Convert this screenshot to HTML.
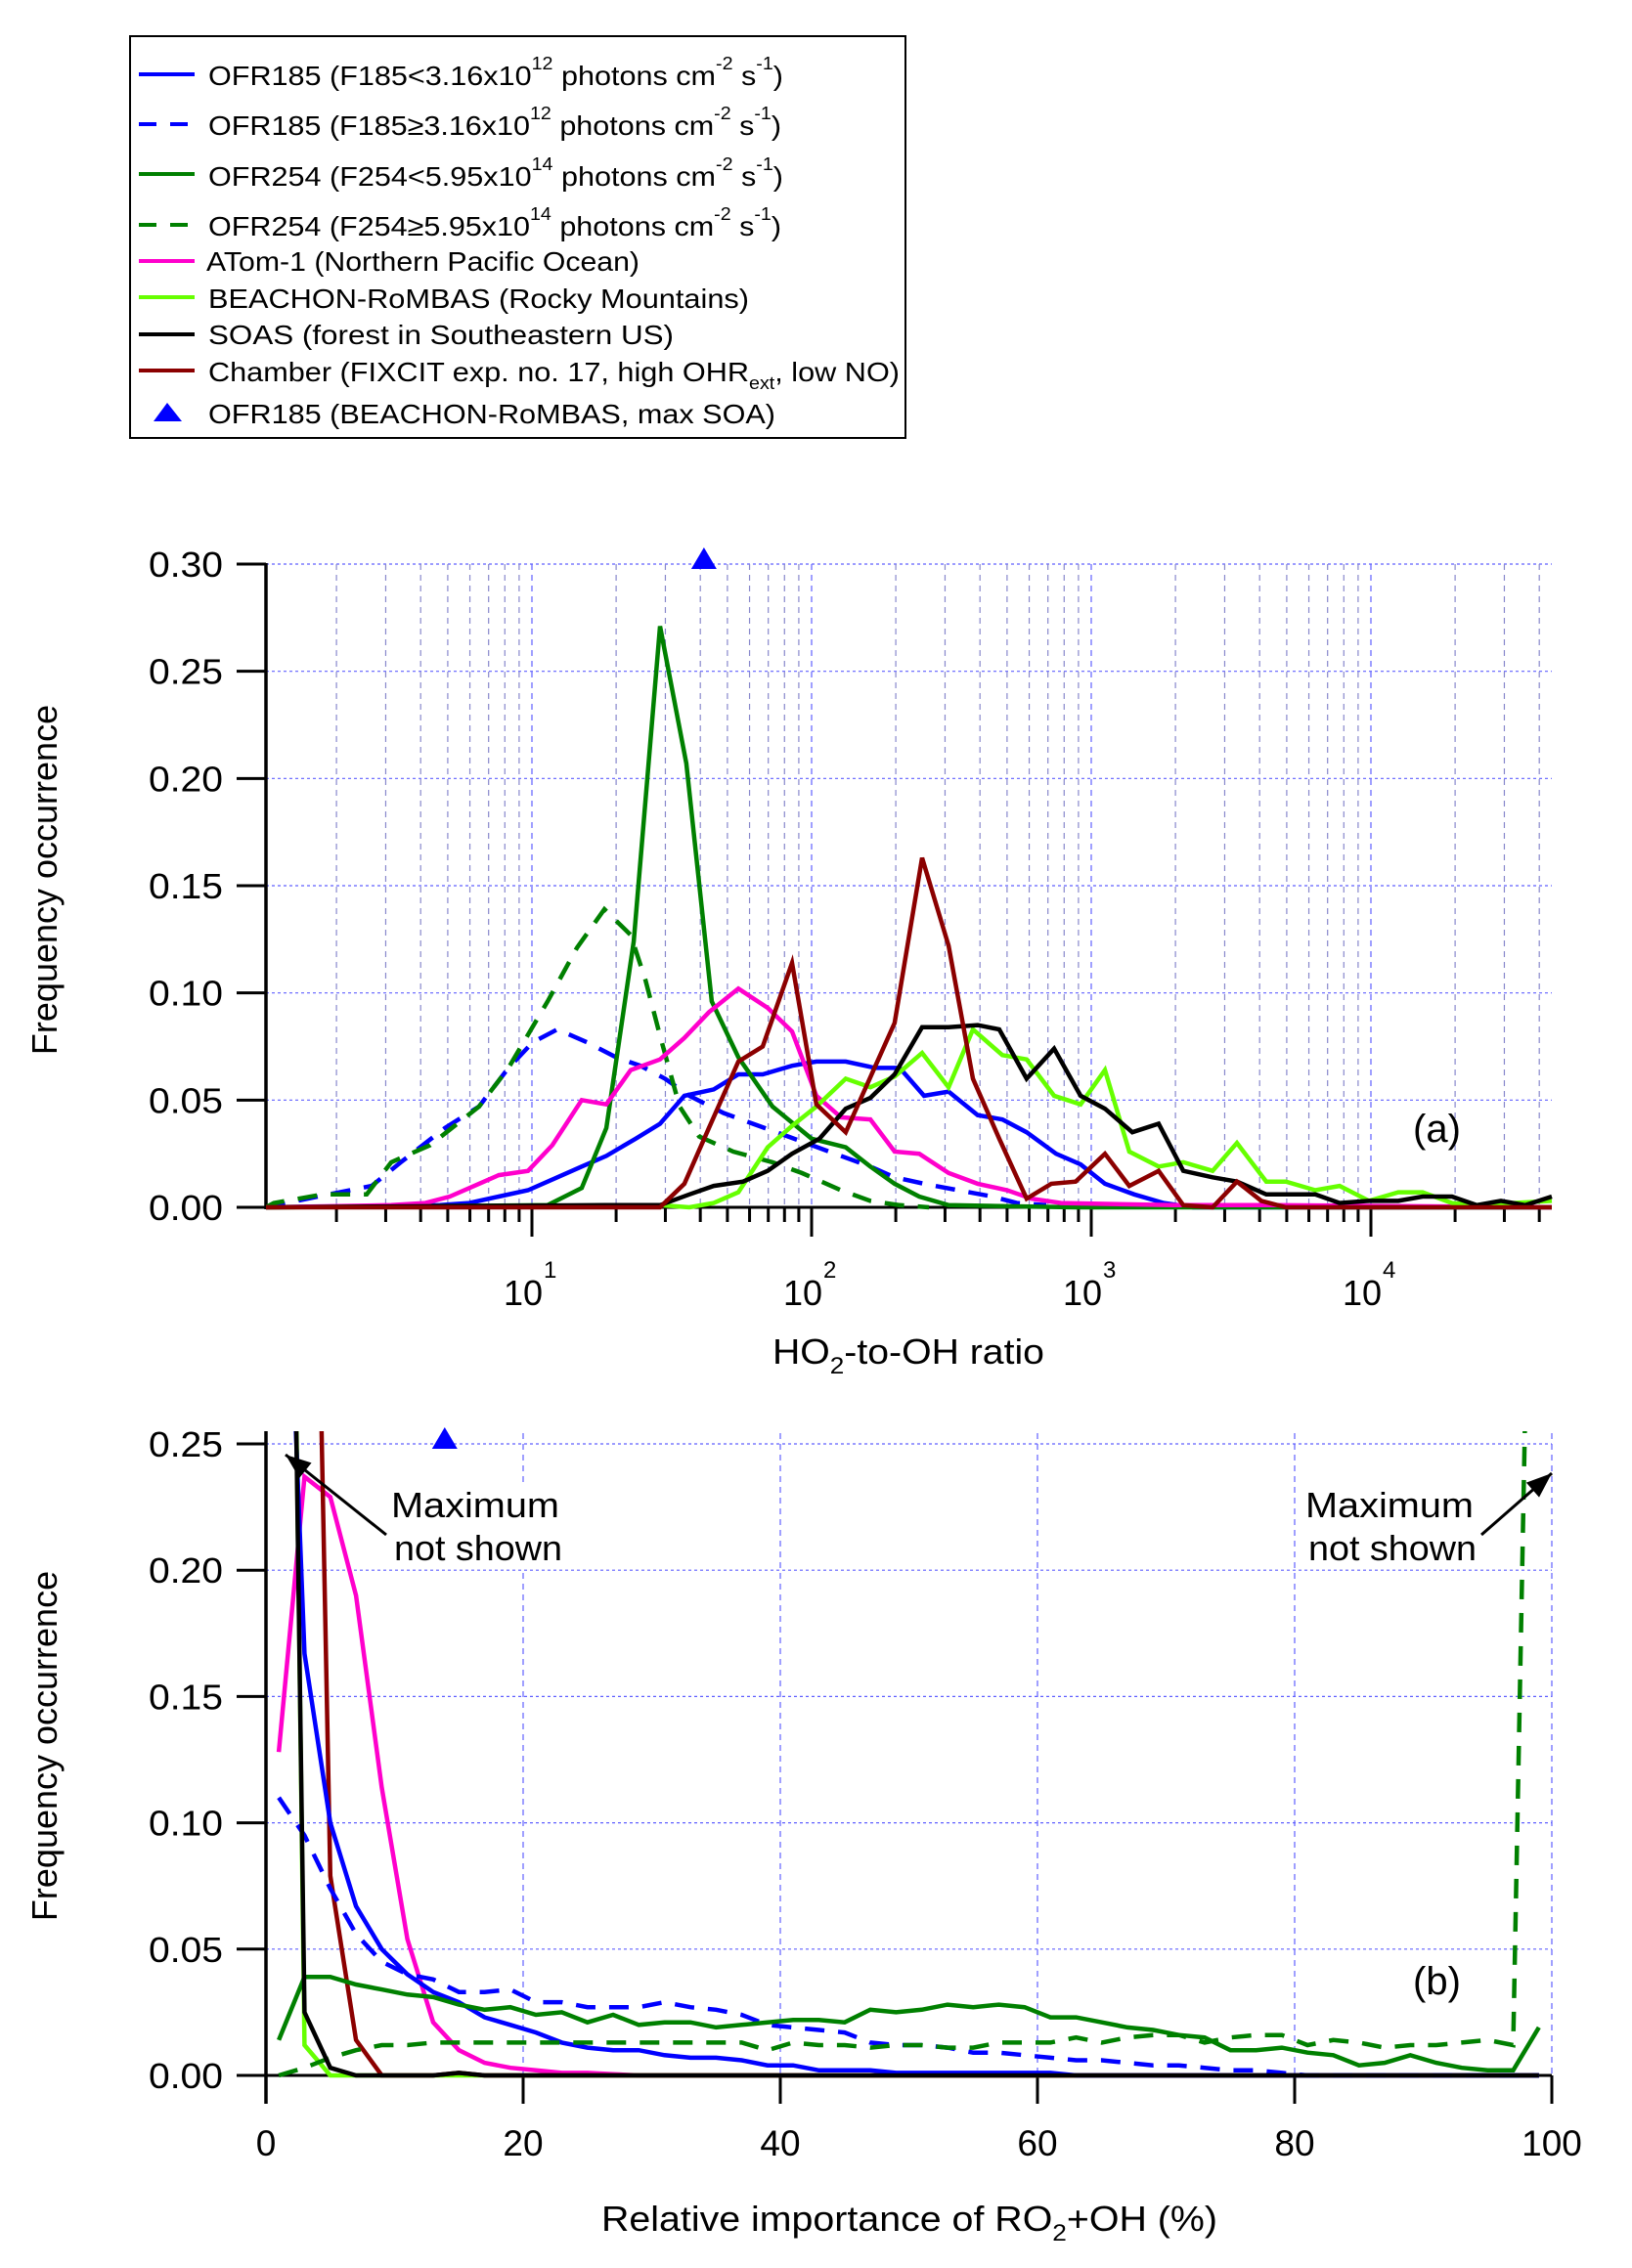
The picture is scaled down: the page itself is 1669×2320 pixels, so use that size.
<!DOCTYPE html>
<html><head><meta charset="utf-8"><style>
body{margin:0;background:#fff;}
svg{display:block;font-family:"Liberation Sans",Arial,sans-serif;}
</style></head><body>
<svg id="fig" width="1669" height="2320" viewBox="0 0 1669 2320" xmlns="http://www.w3.org/2000/svg">
<defs>
<clipPath id="clipA"><rect x="272" y="560" width="1320" height="680"/></clipPath>
<clipPath id="clipB"><rect x="272" y="1464" width="1320" height="662"/></clipPath>
</defs>
<g id="legend">
<rect x="133" y="37" width="793" height="411" fill="#fff" stroke="#000" stroke-width="2"/>
<g font-size="28" fill="#000">
<g><line x1="142" y1="76" x2="199" y2="76" stroke="#0000ff" stroke-width="4"/>
<text x="213" y="87" textLength="588" lengthAdjust="spacingAndGlyphs">OFR185 (F185&lt;3.16x10<tspan font-size="18" dy="-16">12</tspan><tspan dy="16"> photons cm</tspan><tspan font-size="18" dy="-16">-2</tspan><tspan dy="16"> s</tspan><tspan font-size="18" dy="-16">-1</tspan><tspan dy="16">)</tspan></text></g>
<g><line x1="142" y1="127" x2="199" y2="127" stroke="#0000ff" stroke-width="4" stroke-dasharray="18,14"/>
<text x="213" y="138" textLength="586" lengthAdjust="spacingAndGlyphs">OFR185 (F185≥3.16x10<tspan font-size="18" dy="-16">12</tspan><tspan dy="16"> photons cm</tspan><tspan font-size="18" dy="-16">-2</tspan><tspan dy="16"> s</tspan><tspan font-size="18" dy="-16">-1</tspan><tspan dy="16">)</tspan></text></g>
<g><line x1="142" y1="178" x2="199" y2="178" stroke="#008000" stroke-width="4"/>
<text x="213" y="190" textLength="588" lengthAdjust="spacingAndGlyphs">OFR254 (F254&lt;5.95x10<tspan font-size="18" dy="-16">14</tspan><tspan dy="16"> photons cm</tspan><tspan font-size="18" dy="-16">-2</tspan><tspan dy="16"> s</tspan><tspan font-size="18" dy="-16">-1</tspan><tspan dy="16">)</tspan></text></g>
<g><line x1="142" y1="230" x2="199" y2="230" stroke="#008000" stroke-width="4" stroke-dasharray="18,14"/>
<text x="213" y="241" textLength="586" lengthAdjust="spacingAndGlyphs">OFR254 (F254≥5.95x10<tspan font-size="18" dy="-16">14</tspan><tspan dy="16"> photons cm</tspan><tspan font-size="18" dy="-16">-2</tspan><tspan dy="16"> s</tspan><tspan font-size="18" dy="-16">-1</tspan><tspan dy="16">)</tspan></text></g>
<g><line x1="142" y1="267" x2="199" y2="267" stroke="#ff00cc" stroke-width="4"/>
<text x="211" y="277" textLength="443" lengthAdjust="spacingAndGlyphs">ATom-1 (Northern Pacific Ocean)</text></g>
<g><line x1="142" y1="304" x2="199" y2="304" stroke="#66ff00" stroke-width="4"/>
<text x="213" y="315" textLength="553" lengthAdjust="spacingAndGlyphs">BEACHON-RoMBAS (Rocky Mountains)</text></g>
<g><line x1="142" y1="342" x2="199" y2="342" stroke="#000" stroke-width="4"/>
<text x="213" y="352" textLength="476" lengthAdjust="spacingAndGlyphs">SOAS  (forest in Southeastern US)</text></g>
<g><line x1="142" y1="379" x2="199" y2="379" stroke="#8b0000" stroke-width="4"/>
<text x="213" y="390" textLength="707" lengthAdjust="spacingAndGlyphs">Chamber (FIXCIT exp. no. 17, high OHR<tspan font-size="18" dy="8">ext</tspan><tspan dy="-8">, low NO)</tspan></text></g>
<g><polygon points="171,412 186,431 157,431" fill="#0000ff"/>
<text x="213" y="433" textLength="580" lengthAdjust="spacingAndGlyphs">OFR185 (BEACHON-RoMBAS, max SOA)</text></g>
</g>
</g>
<g id="panelA"></g>
<g id="panelB"></g>
</svg>
<script>
// ---------- Panel (a) data: x = log10(HO2/OH), y = frequency ----------
const a_blueSolid_x=[0.049,0.671,0.776,0.881,0.986,1.091,1.178,1.266,1.371,1.458,1.545,1.650,1.738,1.825,1.930,2.017,2.122,2.227,2.315,2.402,2.490,2.594,2.682,2.769,2.874,2.962,3.049,3.154,3.259,3.364,4.647];
const a_blueSolid_y=[0,0.001,0.002,0.005,0.008,0.014,0.019,0.024,0.032,0.039,0.052,0.055,0.062,0.062,0.066,0.068,0.068,0.065,0.065,0.052,0.054,0.043,0.041,0.035,0.025,0.020,0.011,0.006,0.002,0,0];
const a_blueDash_x=[0.049,0.234,0.427,0.531,0.689,0.811,0.916,1.003,1.091,1.196,1.301,1.388,1.476,1.563,1.685,1.790,1.895,2.0,2.105,2.210,2.297,2.402,2.524,2.647,2.734,2.839];
const a_blueDash_y=[0,0.005,0.010,0.021,0.037,0.047,0.065,0.077,0.083,0.077,0.070,0.066,0.060,0.052,0.044,0.039,0.034,0.029,0.024,0.019,0.014,0.011,0.008,0.005,0.002,0.001];
const a_greenSolid_x=[0.049,1.056,1.178,1.266,1.364,1.458,1.552,1.643,1.738,1.860,2.0,2.122,2.210,2.297,2.385,2.490,2.944,4.647];
const a_greenSolid_y=[0,0.001,0.009,0.037,0.124,0.271,0.207,0.096,0.070,0.047,0.032,0.028,0.019,0.011,0.005,0.001,0,0];
const a_greenDash_x=[0.049,0.077,0.252,0.409,0.497,0.636,0.811,0.916,1.056,1.161,1.259,1.353,1.406,1.458,1.528,1.598,1.720,1.860,1.965,2.105,2.210,2.315,2.420];
const a_greenDash_y=[0,0.002,0.006,0.006,0.021,0.029,0.047,0.065,0.096,0.121,0.139,0.127,0.106,0.080,0.047,0.033,0.026,0.021,0.016,0.008,0.003,0.001,0];
const a_pink_x=[0.049,0.497,0.619,0.706,0.811,0.881,0.986,1.073,1.178,1.266,1.353,1.458,1.545,1.633,1.738,1.843,1.930,2.017,2.105,2.210,2.297,2.385,2.490,2.594,2.699,2.787,2.892,3.294,3.643,4.647];
const a_pink_y=[0,0.001,0.002,0.005,0.011,0.015,0.017,0.029,0.050,0.048,0.064,0.069,0.079,0.091,0.102,0.093,0.082,0.052,0.042,0.041,0.026,0.025,0.016,0.011,0.008,0.004,0.002,0.001,0.001,0];
const a_lime_x=[0.049,1.458,1.563,1.650,1.738,1.843,1.930,2.017,2.122,2.210,2.297,2.395,2.490,2.577,2.682,2.769,2.867,2.962,3.049,3.136,3.241,3.329,3.434,3.521,3.626,3.696,3.801,3.888,3.993,4.098,4.185,4.290,4.378,4.647];
const a_lime_y=[0,0.001,0,0.002,0.007,0.028,0.038,0.047,0.060,0.056,0.061,0.072,0.056,0.083,0.071,0.069,0.052,0.048,0.064,0.026,0.019,0.021,0.017,0.030,0.012,0.012,0.008,0.010,0.003,0.007,0.007,0.002,0.001,0.003];
const a_black_x=[0.049,1.266,1.458,1.563,1.650,1.755,1.843,1.930,2.028,2.122,2.210,2.297,2.395,2.490,2.594,2.671,2.769,2.867,2.962,3.049,3.147,3.241,3.329,3.434,3.521,3.626,3.696,3.801,3.888,3.993,4.098,4.185,4.290,4.378,4.465,4.552,4.647];
const a_black_y=[0,0.001,0.001,0.006,0.010,0.012,0.017,0.025,0.032,0.046,0.051,0.062,0.084,0.084,0.085,0.083,0.060,0.074,0.052,0.046,0.035,0.039,0.017,0.014,0.012,0.006,0.006,0.006,0.002,0.003,0.003,0.005,0.005,0.001,0.003,0.001,0.005];
const a_darkred_x=[0.049,1.458,1.545,1.633,1.738,1.825,1.930,2.017,2.122,2.297,2.395,2.490,2.577,2.671,2.769,2.857,2.944,3.049,3.136,3.241,3.329,3.434,3.521,3.608,3.696,4.647];
const a_darkred_y=[0,0,0.011,0.037,0.068,0.075,0.114,0.048,0.035,0.086,0.163,0.122,0.060,0.032,0.004,0.011,0.012,0.025,0.010,0.017,0.001,0,0.012,0.003,0,0];
const a_yTicks=[0,0.05,0.10,0.15,0.20,0.25,0.30];
const a_yTickLabels=["0.00","0.05","0.10","0.15","0.20","0.25","0.30"];
const a_decades=[1,2,3,4];
const a_marker=[1.615,0.30];

// ---------- Panel (b) data: x = relative importance (%), y = frequency ----------
const b_x=[1,3,5,7,9,11,13,15,17,19,21,23,25,27,29,31,33,35,37,39,41,43,45,47,49,51,53,55,57,59,61,63,65,67,69,71,73,75,77,79,81,83,85,87,89,91,93,95,97,99];
const b_blueSolid=[0.43,0.167,0.100,0.067,0.050,0.040,0.033,0.029,0.023,0.020,0.017,0.013,0.011,0.010,0.010,0.008,0.007,0.007,0.006,0.004,0.004,0.002,0.002,0.002,0.001,0.001,0.001,0.001,0.001,0.001,0.001,0,0,0,0,0,0,0,0,0,0,0,0,0,0,0,0,0,0,0];
const b_blueDash=[0.110,0.095,0.074,0.056,0.045,0.040,0.038,0.033,0.033,0.034,0.029,0.029,0.027,0.027,0.027,0.029,0.027,0.026,0.024,0.020,0.019,0.018,0.017,0.013,0.012,0.012,0.011,0.009,0.009,0.008,0.007,0.006,0.006,0.005,0.004,0.004,0.003,0.002,0.002,0.001,0,0,0,0,0,0,0,0,0,0];
const b_greenSolid=[0.014,0.039,0.039,0.036,0.034,0.032,0.031,0.028,0.026,0.027,0.024,0.025,0.021,0.024,0.020,0.021,0.021,0.019,0.020,0.021,0.022,0.022,0.021,0.026,0.025,0.026,0.028,0.027,0.028,0.027,0.023,0.023,0.021,0.019,0.018,0.016,0.015,0.010,0.010,0.011,0.009,0.008,0.004,0.005,0.008,0.005,0.003,0.002,0.002,0.019];
const b_greenDash=[0,0.003,0.007,0.010,0.012,0.012,0.013,0.013,0.013,0.013,0.013,0.013,0.013,0.013,0.013,0.013,0.013,0.013,0.013,0.010,0.013,0.012,0.012,0.011,0.012,0.012,0.011,0.011,0.013,0.013,0.013,0.015,0.013,0.015,0.016,0.016,0.013,0.015,0.016,0.016,0.012,0.014,0.013,0.011,0.012,0.012,0.013,0.014,0.012,0.55];
const b_pink=[0.128,0.237,0.229,0.190,0.114,0.054,0.021,0.010,0.005,0.003,0.002,0.001,0.001,0.0005,0,0,0,0,0,0,0,0,0,0,0,0,0,0,0,0,0,0,0,0,0,0,0,0,0,0,0,0,0,0,0,0,0,0,0,0];
const b_darkred=[0.7,0.6,0.079,0.014,0,0,0,0.001,0,0,0,0,0,0,0,0,0,0,0,0,0,0,0,0,0,0,0,0,0,0,0,0,0,0,0,0,0,0,0,0,0,0,0,0,0,0,0,0,0,0];
const b_black=[0.75,0.025,0.003,0,0,0,0,0.001,0,0,0,0,0,0,0,0,0,0,0,0,0,0,0,0,0,0,0,0,0,0,0,0,0,0,0,0,0,0,0,0,0,0,0,0,0,0,0,0,0,0];
const b_lime=[0.8,0.012,0,0,0,0,0,0,0,0,0,0,0,0,0,0,0,0,0,0,0,0,0,0,0,0,0,0,0,0,0,0,0,0,0,0,0,0,0,0,0,0,0,0,0,0,0,0,0,0];
const b_yTicks=[0,0.05,0.10,0.15,0.20,0.25];
const b_yTickLabels=["0.00","0.05","0.10","0.15","0.20","0.25"];
const b_xTicks=[0,20,40,60,80,100];
const b_marker=[13.9,0.25];

const NS="http://www.w3.org/2000/svg";
function mk(tag,attrs,parent){const e=document.createElementNS(NS,tag);for(const k in attrs)e.setAttribute(k,attrs[k]);parent.appendChild(e);return e;}

const AX0=272, AX1=1587;
const axA=v=>544+(v-1)*286;
const ayA=v=>1235-v/0.30*658;
const axB=v=>AX0+v/100*(AX1-AX0);
const ayB=v=>2123-v/0.25*646;

const gA=document.getElementById('panelA');
const gB=document.getElementById('panelB');

const gridA=mk('g',{},gA);


for(const t of a_yTicks){ if(t===0)continue;
  const l=mk('line',{x1:AX0,x2:AX1,y1:ayA(t),y2:ayA(t),stroke:'#6060ff','stroke-width':1.2,'stroke-dasharray':'3,3'},gridA);
  
  
}
const minorTicksA=[];
for(let d=0;d<=4;d++){for(let m=1;m<=9;m++){const lv=d+Math.log10(m);if(lv>0.049&&lv<=4.66)minorTicksA.push([lv,m===1]);}}
for(const [lv,major] of minorTicksA){
  const x=axA(lv);
  const l=mk('line',{x1:x,x2:x,y1:ayA(0.30),y2:1235,stroke:major?'#6060ff':'#8888cc','stroke-width':1.2,'stroke-dasharray':'6,5'},gridA);
  
  
  const t=mk('line',{x1:x,x2:x,y1:1235,y2:major?1265:1250,stroke:'#000','stroke-width':3},gA);
  
  
}
const axAy=mk('line',{x1:AX0,x2:AX0,y1:ayA(0.30)-1,y2:1237,stroke:'#000','stroke-width':3.5},gA);


const axAx=mk('line',{x1:AX0,x2:AX1,y1:1235,y2:1235,stroke:'#000','stroke-width':3},gA);


a_yTicks.forEach((t,i)=>{
  const y=ayA(t);
  const l=mk('line',{x1:242,x2:AX0,y1:y,y2:y,stroke:'#000','stroke-width':3},gA);
  
  
  const tx=mk('text',{x:228,y:y+13,'text-anchor':'end','font-size':36,textLength:76,lengthAdjust:'spacingAndGlyphs'},gA);
  tx.textContent=a_yTickLabels[i];
  
  
});
a_decades.forEach(d=>{
  const x=axA(d);
  const tx=mk('text',{x:x-29,y:1335,'font-size':36},gA);
  tx.textContent='10';
  
  
  const sp=mk('text',{x:x+12,y:1307,'font-size':24},gA);
  sp.textContent=String(d);
  
  
});
const tA=mk('text',{x:790,y:1395,'font-size':36,textLength:278,lengthAdjust:'spacingAndGlyphs'},gA);
tA.innerHTML='HO<tspan font-size="24" dy="10">2</tspan><tspan dy="-10">-to-OH ratio</tspan>';


const yA=mk('text',{x:0,y:0,'font-size':36,'text-anchor':'middle',transform:'translate(58,900) rotate(-90)'},gA);
yA.textContent='Frequency occurrence';


const labA=mk('text',{x:1445,y:1168,'font-size':40},gA);
labA.textContent='(a)';



function lineA(xs,ys,color,dash,name){
  const pts=xs.map((x,i)=>axA(x).toFixed(1)+','+ayA(ys[i]).toFixed(1)).join(' ');
  const p=mk('polyline',{points:pts,fill:'none',stroke:color,'stroke-width':4.5,'stroke-linejoin':'miter','clip-path':'url(#clipA)'},gA);
  if(dash)p.setAttribute('stroke-dasharray',dash);
  
  
}
lineA(a_blueDash_x,a_blueDash_y,'#0000ff','20,14','series-a-ofr185-high');
lineA(a_greenDash_x,a_greenDash_y,'#008000','20,14','series-a-ofr254-high');
lineA(a_blueSolid_x,a_blueSolid_y,'#0000ff',null,'series-a-ofr185-low');
lineA(a_greenSolid_x,a_greenSolid_y,'#008000',null,'series-a-ofr254-low');
lineA(a_pink_x,a_pink_y,'#ff00cc',null,'series-a-atom1');
lineA(a_lime_x,a_lime_y,'#66ff00',null,'series-a-beachon');
lineA(a_black_x,a_black_y,'#000000',null,'series-a-soas');
lineA(a_darkred_x,a_darkred_y,'#8b0000',null,'series-a-chamber');
{const x=axA(a_marker[0]),y=ayA(a_marker[1]);
 const m=mk('polygon',{points:`${x},${y-17} ${x+13},${y+5} ${x-13},${y+5}`,fill:'#0000ff'},gA);
 
 }

const gridB=mk('g',{},gB);


for(const t of b_yTicks){ if(t===0)continue;
  const l=mk('line',{x1:AX0,x2:AX1,y1:ayB(t),y2:ayB(t),stroke:'#6060ff','stroke-width':1.2,'stroke-dasharray':'3,3'},gridB);
  
  
}
b_xTicks.forEach(t=>{
  const x=axB(t);
  if(t>0){const l=mk('line',{x1:x,x2:x,y1:1466,y2:2123,stroke:'#6060ff','stroke-width':1.2,'stroke-dasharray':'6,5'},gridB);
  
  }
  const tk=mk('line',{x1:x,x2:x,y1:2123,y2:2152,stroke:'#000','stroke-width':3},gB);
  
  
  const tx=mk('text',{x:x,y:2205,'text-anchor':'middle','font-size':37},gB);
  tx.textContent=String(t);
  
  
});
const axBy=mk('line',{x1:AX0,x2:AX0,y1:1464,y2:2152,stroke:'#000','stroke-width':3.5},gB);


const axBx=mk('line',{x1:AX0,x2:AX1,y1:2123,y2:2123,stroke:'#000','stroke-width':3},gB);


b_yTicks.forEach((t,i)=>{
  const y=ayB(t);
  const l=mk('line',{x1:242,x2:AX0,y1:y,y2:y,stroke:'#000','stroke-width':3},gB);
  
  
  const tx=mk('text',{x:228,y:y+13,'text-anchor':'end','font-size':36,textLength:76,lengthAdjust:'spacingAndGlyphs'},gB);
  tx.textContent=b_yTickLabels[i];
  
  
});
const tB=mk('text',{x:615,y:2282,'font-size':36,textLength:630,lengthAdjust:'spacingAndGlyphs'},gB);
tB.innerHTML='Relative importance of RO<tspan font-size="24" dy="10">2</tspan><tspan dy="-10">+OH (%)</tspan>';


const yB=mk('text',{x:0,y:0,'font-size':36,'text-anchor':'middle',transform:'translate(58,1786) rotate(-90)'},gB);
yB.textContent='Frequency occurrence';


const labB=mk('text',{x:1445,y:2040,'font-size':40},gB);
labB.textContent='(b)';



function lineB(ys,color,dash,name){
  const pts=b_x.map((x,i)=>axB(x).toFixed(1)+','+ayB(ys[i]).toFixed(1)).join(' ');
  const p=mk('polyline',{points:pts,fill:'none',stroke:color,'stroke-width':4.5,'clip-path':'url(#clipB)'},gB);
  if(dash)p.setAttribute('stroke-dasharray',dash);
  
  
}
lineB(b_pink,'#ff00cc',null,'series-b-atom1');
lineB(b_lime,'#66ff00',null,'series-b-beachon');
lineB(b_darkred,'#8b0000',null,'series-b-chamber');
lineB(b_blueSolid,'#0000ff',null,'series-b-ofr185-low');
lineB(b_blueDash,'#0000ff','20,14','series-b-ofr185-high');
lineB(b_greenDash,'#008000','20,14','series-b-ofr254-high');
lineB(b_greenSolid,'#008000',null,'series-b-ofr254-low');
lineB(b_black,'#000000',null,'series-b-soas');
{const x=axB(b_marker[0]),y=ayB(b_marker[1]);
 const m=mk('polygon',{points:`${x},${y-17} ${x+13},${y+5} ${x-13},${y+5}`,fill:'#0000ff'},gB);
 
 }

function annot(tx,ty,lx1,ly1,lx2,ly2,name){
  const g=mk('g',{},gB);
  
  
  mk('rect',{x:tx-4,y:ty-34,width:184,height:86,fill:'#fff'},g);
  const t1=mk('text',{x:tx,y:ty,'font-size':36,textLength:172,lengthAdjust:'spacingAndGlyphs'},g);t1.textContent='Maximum';
  const t2=mk('text',{x:tx+3,y:ty+44,'font-size':36,textLength:172,lengthAdjust:'spacingAndGlyphs'},g);t2.textContent='not shown';
  mk('line',{x1:lx1,y1:ly1,x2:lx2,y2:ly2,stroke:'#000','stroke-width':3},g);
  const ang=Math.atan2(ly2-ly1,lx2-lx1),L=26,W=10;
  const bx=lx2-L*Math.cos(ang),by=ly2-L*Math.sin(ang);
  mk('polygon',{points:`${lx2},${ly2} ${bx+W*Math.sin(ang)},${by-W*Math.cos(ang)} ${bx-W*Math.sin(ang)},${by+W*Math.cos(ang)}`,fill:'#000'},g);
}
annot(400,1552,395,1570,292,1488,'annotation-left');
annot(1335,1552,1515,1570,1587,1507,'annotation-right');
</script>
</body></html>
